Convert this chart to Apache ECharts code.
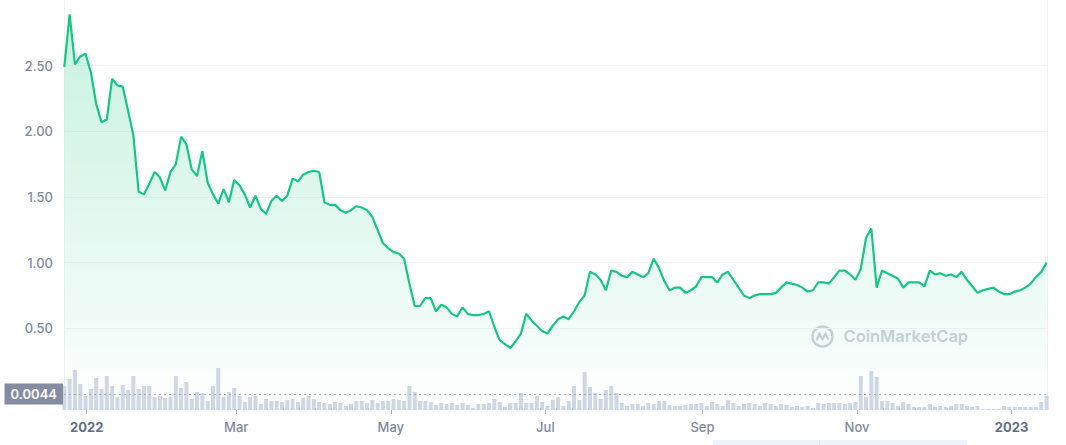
<!DOCTYPE html>
<html>
<head>
<meta charset="utf-8">
<script src="https://cdn.jsdelivr.net/npm/echarts@6/dist/echarts.min.js"></script>
<style>
html,body{margin:0;padding:0;background:#fff;}
#chart{width:1066px;height:445px;}
</style>
</head>
<body>
<div id="chart"></div>
<script>
// ---- data ----
const firstDate = '2021-12-23T04:00:00';
const lastDate = '2023-01-14T19:00:00';
const axisMin = '2021-12-23T01:00:00';
const axisMax = '2023-01-14T23:00:00';

const priceA = [2.49,2.89,2.51,2.57,2.59,2.45,2.21,2.07,2.09,2.40,2.35,2.34,2.16,1.97,1.54,1.52,1.60,1.69,1.65,1.55,1.69,1.75,1.96,1.90,1.71,1.66,1.85,1.61,1.52,1.45,1.56,1.46,1.63,1.59,1.52,1.42,1.51,1.41,1.37,1.47,1.51,1.47,1.51,1.64,1.62,1.67];
const priceB = [1.69,1.70,1.69,1.46,1.44,1.44,1.40,1.38,1.40,1.43,1.42,1.40,1.35,1.25,1.15,1.11,1.08,1.07,1.03,0.84,0.67,0.67,0.73,0.73,0.63,0.68,0.66,0.61,0.59,0.66,0.61,0.60,0.60,0.61,0.63,0.51,0.41,0.38,0.35,0.40,0.46,0.61,0.56,0.52,0.48];
const priceC = [0.46,0.52,0.57,0.59,0.57,0.63,0.70,0.75,0.93,0.91,0.87,0.79,0.94,0.93,0.90,0.89,0.93,0.91,0.89,0.92,1.03,0.96,0.86,0.79,0.81,0.81,0.77,0.79,0.82,0.89,0.89,0.89,0.85,0.91,0.93,0.87,0.81,0.75,0.73,0.75,0.76,0.76,0.76,0.77,0.81,0.85,0.84];
const priceD = [0.83,0.81,0.78,0.79,0.85,0.85,0.84,0.89,0.94,0.94,0.91,0.87,0.95,1.19,1.26,0.81,0.94,0.92,0.90,0.88,0.81,0.85,0.85,0.85,0.82,0.94,0.91,0.92,0.90,0.91,0.89,0.93,0.87,0.82,0.77,0.79,0.80,0.81,0.78,0.76,0.76,0.78,0.79,0.81,0.84,0.89,0.93,1.00];

const volA = [24,31,40,26,14,21,32,21,34,24,13,25,20,34,21,24,24,13,14,12,13,34,22,28,11,18,17,9,24,42,13,18,22,14,8,13,14,6,11,9,9,8,10,11,8,12];
const volB = [14,11,8,7,6,8,7,4,6,9,9,7,10,7,9,9,11,10,9,24,18,9,9,8,5,7,6,7,5,7,5,2,6,6,7,11,8,3,7,7,17,7,7,14,8];
const volC = [4,10,13,4,9,24,10,38,23,17,11,20,24,17,7,4,6,6,4,7,6,9,9,5,4,4,5,6,6,7,4,8,6,4,10,7,4,6,7,6,4,7,6,4,6,5,3];
const volD = [4,3,4,2,7,6,7,7,7,6,7,8,34,13,39,33,9,9,7,4,8,6,3,3,3,6,3,4,3,4,6,6,4,3,4,1,1,1,1,4,3,3,3,3,3,3,8,14];

const yTicks = [0.5, 1.0, 1.5, 2.0, 2.5];
const xTickDates = ['2022-01-01','2022-03-01','2022-05-01','2022-07-01','2022-09-01','2022-11-01','2023-01-01'];
const monthNames = ['Jan','Feb','Mar','Apr','May','Jun','Jul','Aug','Sep','Oct','Nov','Dec'];
const refLineValue = 0.0044;
const refLineLabel = '0.0044';
const watermark = 'CoinMarketCap';

// ---- build ----
const prices = priceA.concat(priceB, priceC, priceD);
const volumes = volA.concat(volB, volC, volD);
const t0 = new Date(firstDate).getTime();
const t1 = new Date(lastDate).getTime();
const n = prices.length;
const times = prices.map((_, i) => t0 + (t1 - t0) * i / (n - 1));
const priceData = prices.map((v, i) => [times[i], v]);
const volData = volumes.map((v, i) => [times[i], v]);
const xTickValues = xTickDates.map(d => new Date(d + 'T00:00:00').getTime());
const xMin = new Date(axisMin).getTime();
const xMax = new Date(axisMax).getTime();

const FONT = 'Inter, "Noto Sans", sans-serif';
const grey = '#808a9d';
const green = '#16c784';
const frame = '#eff2f5';
const gridC = '#f3f4f6';

const chart = echarts.init(document.getElementById('chart'), null, {renderer: 'svg'});
chart.setOption({
  animation: false,
  backgroundColor: '#ffffff',
  textStyle: {fontFamily: FONT},
  grid: [
    {left: 64, right: 19, top: -2, height: 396},
    {left: 64, right: 19, top: 350, height: 60}
  ],
  xAxis: [
    {type: 'value', gridIndex: 0, min: xMin, max: xMax, show: false},
    {type: 'value', gridIndex: 1, min: xMin, max: xMax,
      axisLine: {show: false},
      splitLine: {show: false},
      axisTick: {show: true, length: 4, lineStyle: {color: '#a6b0c3'}, customValues: xTickValues},
      axisLabel: {
        customValues: xTickValues,
        margin: 10,
        formatter: function (val) {
          const d = new Date(val);
          if (d.getMonth() === 0) return '{y|' + d.getFullYear() + '}';
          return '{m|' + monthNames[d.getMonth()] + '}';
        },
        rich: {
          y: {fontSize: 13, fontWeight: 700, color: '#616e85', fontFamily: FONT},
          m: {fontSize: 13, fontWeight: 500, color: grey, fontFamily: FONT}
        }
      }
    }
  ],
  yAxis: [
    {type: 'value', gridIndex: 0, min: 0, max: 3, interval: 0.5, position: 'left',
      axisLine: {show: true, lineStyle: {color: frame}},
      axisTick: {show: false},
      splitLine: {show: true, lineStyle: {color: ['rgba(0,0,0,0)', gridC, gridC, gridC, gridC, gridC, 'rgba(0,0,0,0)']}},
      axisLabel: {
        margin: 11, fontSize: 13, fontWeight: 500, color: grey, fontFamily: FONT,
        formatter: function (v) { return yTicks.indexOf(v) >= 0 ? v.toFixed(2) : ''; }
      }
    },
    {type: 'value', gridIndex: 0, min: 0, max: 3, position: 'right',
      axisLine: {show: true, lineStyle: {color: frame}},
      axisTick: {show: false}, axisLabel: {show: false}, splitLine: {show: false}},
    {type: 'value', gridIndex: 1, min: 0, max: 60, position: 'left',
      axisLine: {show: true, lineStyle: {color: frame}},
      axisTick: {show: false}, axisLabel: {show: false}, splitLine: {show: false}},
    {type: 'value', gridIndex: 1, min: 0, max: 60, position: 'right',
      axisLine: {show: true, lineStyle: {color: frame}},
      axisTick: {show: false}, axisLabel: {show: false}, splitLine: {show: false}}
  ],
  series: [
    {
      type: 'bar', xAxisIndex: 1, yAxisIndex: 2, data: volData,
      barWidth: 4, itemStyle: {color: '#cfd6e4'}, silent: true, z: 3
    },
    {
      type: 'line', xAxisIndex: 0, yAxisIndex: 0, data: priceData,
      showSymbol: false, clip: false, z: 2,
      lineStyle: {color: green, width: 2.2},
      areaStyle: {
        origin: -0.123,
        color: new echarts.graphic.LinearGradient(0, 0, 0, 1, [
          {offset: 0, color: 'rgba(22,199,132,0.34)'},
          {offset: 0.6, color: 'rgba(22,199,132,0.15)'},
          {offset: 1, color: 'rgba(22,199,132,0.0)'}
        ])
      },
      markLine: {
        silent: true, symbol: 'none', z: 5,
        lineStyle: {type: [2, 3], color: '#a6b0c3', width: 1},
        label: {
          position: 'start', formatter: refLineLabel, distance: 1,
          backgroundColor: '#858ca2', color: '#ffffff', padding: [4, 6, 4, 6],
          fontSize: 13, fontWeight: 600, fontFamily: FONT
        },
        data: [{yAxis: refLineValue}]
      }
    }
  ],
  graphic: [
    {type: 'group', left: 810, top: 324, silent: true, z: 1, children: [
      {type: 'circle', shape: {cx: 11, cy: 11, r: 10}, style: {fill: 'none', stroke: '#cdd1da', lineWidth: 2.5}},
      {type: 'polyline', shape: {points: [[5, 15], [8, 8], [11, 14], [14, 8], [17, 14]]}, style: {fill: 'none', stroke: '#cdd1da', lineWidth: 2.2, lineJoin: 'round'}},
      {type: 'text', x: 32, y: 2, style: {text: watermark, fontSize: 16.5, fontWeight: 600, fill: '#cdd1da', fontFamily: FONT}}
    ]},
    {type: 'rect', left: 713, top: 440, silent: true, shape: {width: 254, height: 8}, style: {fill: '#eef2fb'}},
    {type: 'rect', left: 819, top: 440, silent: true, shape: {width: 1, height: 8}, style: {fill: '#dde3ef'}}
  ]
});
</script>
</body>
</html>
